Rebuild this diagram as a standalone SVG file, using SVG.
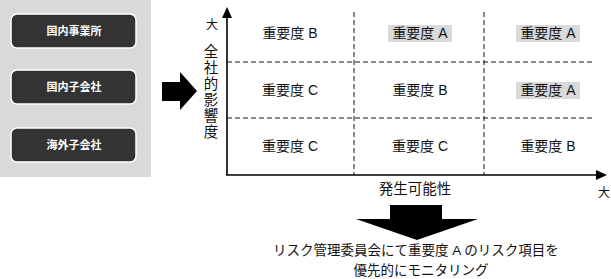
<svg xmlns="http://www.w3.org/2000/svg" width="611" height="279" viewBox="0 0 611 279">
<defs>
<style>
.t{font-family:"Liberation Sans","Noto Sans CJK JP",sans-serif;fill:#111;}
.c{font-size:14px;text-anchor:middle;}
.box{fill:#333333;stroke:#ffffff;stroke-width:1.5;}
.bt{font-family:"Noto Sans CJK JP",sans-serif;font-size:11px;fill:#ffffff;text-anchor:middle;font-weight:bold;}
.dash{stroke:#111;stroke-width:1;stroke-dasharray:5,3;fill:none;}
.axis{stroke:#000;stroke-width:1.6;fill:none;}
.hl{fill:#d9d9d9;}
</style>
</defs>
<rect x="0" y="0" width="151" height="177" fill="#d9d9d9"/>
<g id="node-kokunai-jigyosho">
<rect class="box" x="11" y="14" width="125" height="34" rx="6"/>
<text class="bt" x="74" y="35">国内事業所</text>
</g>
<g id="node-kokunai-kogaisha">
<rect class="box" x="11" y="70" width="125" height="34" rx="6"/>
<text class="bt" x="74" y="91">国内子会社</text>
</g>
<g id="node-kaigai-kogaisha">
<rect class="box" x="11" y="128" width="125" height="34" rx="6"/>
<text class="bt" x="74" y="149">海外子会社</text>
</g>
<g id="connectors">
<polygon points="162,82 180,82 180,72 197,91 180,110 180,101 162,101" fill="#000"/>
<polygon points="390,205 442,205 442,219 478,219 417,240 356,219 390,219" fill="#000"/>
<line class="axis" x1="227" y1="175" x2="227" y2="16"/>
<polygon points="227,7 222,18 232,18" fill="#000"/>
<line class="axis" x1="226" y1="175" x2="597" y2="175"/>
<polygon points="607,175 596,170 596,180" fill="#000"/>
<line class="dash" x1="227" y1="62" x2="592" y2="62"/>
<line class="dash" x1="227" y1="118" x2="592" y2="118"/>
<line class="dash" x1="354" y1="12" x2="354" y2="175"/>
<line class="dash" x1="484" y1="12" x2="484" y2="175"/>
</g>
<g id="grid-labels">
<rect class="hl" x="388" y="25" width="64" height="17"/>
<rect class="hl" x="516" y="25" width="64" height="17"/>
<rect class="hl" x="516" y="82" width="64" height="17"/>
<text class="t c" x="290" y="38">重要度 B</text>
<text class="t c" x="420" y="38">重要度 A</text>
<text class="t c" x="548" y="38">重要度 A</text>
<text class="t c" x="290" y="95">重要度 C</text>
<text class="t c" x="420" y="95">重要度 B</text>
<text class="t c" x="548" y="95">重要度 A</text>
<text class="t c" x="290" y="151">重要度 C</text>
<text class="t c" x="420" y="151">重要度 C</text>
<text class="t c" x="548" y="151">重要度 B</text>
</g>
<g id="axis-labels">
<text class="t" x="212" y="29" font-size="12" text-anchor="middle">大</text>
<text class="t" x="604" y="197" font-size="12" text-anchor="middle">大</text>
<text class="t" x="211" y="57" font-size="14.5" text-anchor="middle">全</text>
<text class="t" x="211" y="73" font-size="14.5" text-anchor="middle">社</text>
<text class="t" x="211" y="89" font-size="14.5" text-anchor="middle">的</text>
<text class="t" x="211" y="105" font-size="14.5" text-anchor="middle">影</text>
<text class="t" x="211" y="121" font-size="14.5" text-anchor="middle">響</text>
<text class="t" x="211" y="137" font-size="14.5" text-anchor="middle">度</text>
<text class="t" x="415" y="194" font-size="14.5" text-anchor="middle">発生可能性</text>
</g>
<g id="conclusion">
<text class="t" x="416" y="255" font-size="13.5" text-anchor="middle">リスク管理委員会にて重要度 A のリスク項目を</text>
<text class="t" x="421" y="275" font-size="13.5" text-anchor="middle">優先的にモニタリング</text>
</g>
</svg>
